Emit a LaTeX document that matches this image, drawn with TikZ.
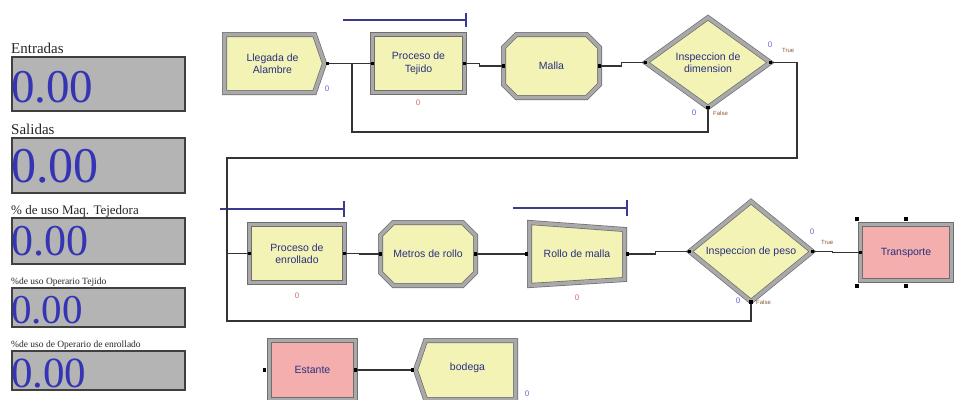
\documentclass[tikz,border=0pt]{standalone}
\usepackage{fontspec}
\setmainfont{Liberation Serif}
\newfontfamily\arenafont{Liberation Sans}
\usetikzlibrary{shapes.geometric,shapes.misc,calc}

\definecolor{modfill}{HTML}{F3F3B6}
\definecolor{pinkfill}{HTML}{F4AEAE}
\definecolor{bevelgray}{HTML}{A9A9A9}
\definecolor{edgegray}{HTML}{6E6E6E}
\definecolor{modtext}{HTML}{283080}
\definecolor{conncol}{HTML}{333333}
\definecolor{resblue}{HTML}{3A3A90}
\definecolor{numblue}{HTML}{3434B4}
\definecolor{panelgray}{HTML}{B4B4B4}
\definecolor{cntblue}{HTML}{6A6AD0}
\definecolor{cntred}{HTML}{D07070}
\definecolor{tflabel}{HTML}{8A5A3A}

\newcommand\portsq[1]{\fill[black] ($#1+(-1.6,-1.6)$) rectangle ++(3.2,3.2);}
\newcommand\handlesq[1]{\fill[black] ($#1+(-2.3,-2.3)$) rectangle ++(4.6,4.6);}

\tikzset{
  bevel/.style={draw=edgegray, double=bevelgray, double distance=3.6pt, line width=0.7pt},
  mod/.style={bevel, fill=modfill, text=modtext, font=\arenafont\fontsize{10.5}{12.5}\selectfont, align=center, inner sep=0pt},
  modlabel/.style={text=modtext, font=\arenafont\fontsize{10.5}{12.5}\selectfont, align=center, inner sep=0pt},
  conn/.style={draw=conncol, line width=1.1pt},
  resline/.style={draw=resblue, line width=1.2pt},
  cnt/.style={font=\arenafont\fontsize{8}{8}\selectfont, inner sep=0pt},
  tf/.style={font=\arenafont\fontsize{6}{6}\selectfont, text=tflabel, inner sep=0pt, anchor=west},
  panelbox/.style={draw=black!75, line width=1.3pt, fill=panelgray, minimum width=173pt, inner sep=0pt},
  ptitle/.style={anchor=base west, inner sep=0pt, text=black!85},
  bignum/.style={anchor=base west, inner sep=0pt, text=numblue},
}

\begin{document}
\begin{tikzpicture}[x=1pt,y=-1pt]
\useasboundingbox[fill=white] (0,0) rectangle (955,399);

% ---------------- left panel ----------------
\node[ptitle, font=\fontsize{15}{15}\selectfont] (t1) at (11,53) {Entradas};
\node[panelbox, minimum height=54pt] (b1) at (98.5,84) {};
\node[bignum, font=\fontsize{47}{47}\selectfont] (n1) at (11,102) {0.00};

\node[ptitle, font=\fontsize{15}{15}\selectfont] (t2) at (11,134) {Salidas};
\node[panelbox, minimum height=55pt] (b2) at (98.5,165.5) {};
\node[bignum, font=\fontsize{50}{50}\selectfont] (n2) at (11,182) {0.00};

\node[ptitle, font=\fontsize{13}{13}\selectfont] (t3) at (11,214) {\% de uso Maq. Tejedora};
\node[panelbox, minimum height=46pt] (b3) at (98.5,241) {};
\node[bignum, font=\fontsize{44}{44}\selectfont] (n3) at (11,255) {0.00};

\node[ptitle, font=\fontsize{9.5}{9.5}\selectfont] (t4) at (11,284) {\%de uso Operario Tejido};
\node[panelbox, minimum height=39pt] (b4) at (98.5,307.5) {};
\node[bignum, font=\fontsize{41}{41}\selectfont] (n4) at (11,323) {0.00};

\node[ptitle, font=\fontsize{9.5}{9.5}\selectfont] (t5) at (11,347) {\%de uso de Operario de enrollado};
\node[panelbox, minimum height=39pt] (b5) at (98.5,370.5) {};
\node[bignum, font=\fontsize{43}{43}\selectfont] (n5) at (11,387) {0.00};

% ---------------- row 1 ----------------
\node[modlabel, minimum width=105pt, minimum height=63pt] (create) at (274.5,63.5) {};
\draw[bevel, fill=modfill] (224.5,34.5) -- (314.5,34.5) -- (324.5,63.5) -- (314.5,92.5) -- (224.5,92.5) -- cycle;
\node[modlabel] (createtext) at ($(create)+(-2,0)$) {Llegada de\\Alambre};

\node[mod, rectangle, minimum width=92pt, minimum height=58pt] (proc1) at (418.5,63.5) {Proceso de\\Tejido};
\node[mod, chamfered rectangle, chamfered rectangle xsep=9pt, chamfered rectangle ysep=9pt, minimum width=96pt, minimum height=63pt] (malla) at (551.5,66) {Malla};
\node[mod, diamond, minimum width=125pt, minimum height=90pt] (dim) at (708,62.5) {Inspeccion de\\dimension};

% resource line over Proceso de Tejido
\draw[resline] (343,20) -- (466,20);
\draw[resline] (466,13) -- (466,27);

% ---------------- row 2 ----------------
\node[mod, rectangle, minimum width=95pt, minimum height=58pt] (enr) at (297,253.5) {Proceso de\\enrollado};
\node[mod, chamfered rectangle, chamfered rectangle xsep=9pt, chamfered rectangle ysep=9pt, minimum width=95pt, minimum height=63pt] (metros) at (428,254) {Metros de rollo};
\node[modlabel, minimum width=100pt, minimum height=68pt] (rollo) at (577,254) {};
\draw[bevel, fill=modfill] (529.5,222.5) -- (624.5,229.5) -- (624.5,279.5) -- (529.5,285.5) -- cycle;
\node[modlabel] (rollotext) at (rollo) {Rollo de malla};
\node[mod, diamond, minimum width=123pt, minimum height=92pt] (peso) at (751,251.5) {Inspeccion de peso};
\node[mod, rectangle, fill=pinkfill, minimum width=91pt, minimum height=56pt] (transp) at (906,252.5) {Transporte};

\draw[resline] (220,209) -- (344,209);
\draw[resline] (344,201) -- (344,217);
\draw[resline] (513,208) -- (627,208);
\draw[resline] (627,200) -- (627,216);

% ---------------- row 3 ----------------
\node[mod, rectangle, fill=pinkfill, minimum width=86pt, minimum height=59pt] (estante) at (312.5,370) {Estante};
\node[modlabel, minimum width=105pt, minimum height=64pt] (bodega) at (465.5,370) {};
\draw[bevel, fill=modfill] (425.5,340.5) -- (515.5,340.5) -- (515.5,399.5) -- (425.5,399.5) -- (415.5,370) -- cycle;
\node[modlabel] (bodegatext) at ($(bodega)+(2,-2)$) {bodega};

% ---------------- connectors ----------------
\coordinate (j1) at (352,63.5);
\coordinate (db) at (352,132);
\coordinate (tr1) at (797,158);
\coordinate (tl1) at (227,158);
\coordinate (bl) at (227,321);

\draw[conn] (create.east) -- (proc1.west);
\draw[conn] (proc1.east) -- ++(15,0) |- (malla.west);
\draw[conn] (malla.east) -- ++(22,0) |- (dim.west);
\draw[conn] (dim.south) |- (db) -- (j1);
\draw[conn] (dim.east) -| (tr1) -- (tl1) |- (enr.west);
\draw[conn] (enr.east) -- ++(15,0) |- (metros.west);
\draw[conn] (metros.east) -- ++(22,0) |- (rollo.west);
\draw[conn] (rollo.east) -- ++(28,0) |- (peso.west);
\draw[conn] (peso.east) -- ++(20,0) |- (transp.west);
\draw[conn] (peso.south) |- (bl) |- (enr.west);
\draw[conn] (estante.east) -- ++(27,0) |- (bodega.west);

% ports
\portsq{(create.east)} \portsq{(proc1.west)} \portsq{(proc1.east)}
\portsq{(malla.west)} \portsq{(malla.east)} \portsq{(dim.west)}
\portsq{(dim.east)} \portsq{(dim.south)}
\portsq{(enr.west)} \portsq{(enr.east)} \portsq{(metros.west)} \portsq{(metros.east)}
\portsq{(rollo.west)} \portsq{(rollo.east)} \portsq{(peso.west)} \portsq{(peso.east)}
\portsq{(peso.south)} \portsq{(transp.west)}
\portsq{($(estante.west)+(-5,0)$)} \portsq{(estante.east)} \portsq{(bodega.west)}

% selection handles around Transporte
\handlesq{($(transp.north west)+(-3,-5)$)}
\handlesq{($(transp.north)+(0,-5)$)}
\handlesq{($(transp.south west)+(-3,5)$)}
\handlesq{($(transp.south)+(0,5)$)}

% ---------------- counters and labels ----------------
\node[cnt, text=cntblue] (c1) at (327,89) {0};
\node[cnt, text=cntred] (c2) at (418,103) {0};
\node[cnt, text=cntblue] (c3) at (770,45) {0};
\node[tf] (tf1) at (782,50) {True};
\node[cnt, text=cntblue] (c4) at (694,113) {0};
\node[tf] (tf2) at (713,113) {False};
\node[cnt, text=cntred] (c5) at (297,296) {0};
\node[cnt, text=cntred] (c6) at (577,298) {0};
\node[cnt, text=cntblue] (c7) at (812,232) {0};
\node[tf] (tf3) at (821,242) {True};
\node[cnt, text=cntblue] (c8) at (738,301) {0};
\node[tf] (tf4) at (756,302) {False};
\node[cnt, text=cntblue] (c9) at (527,394) {0};
\end{tikzpicture}
\end{document}
